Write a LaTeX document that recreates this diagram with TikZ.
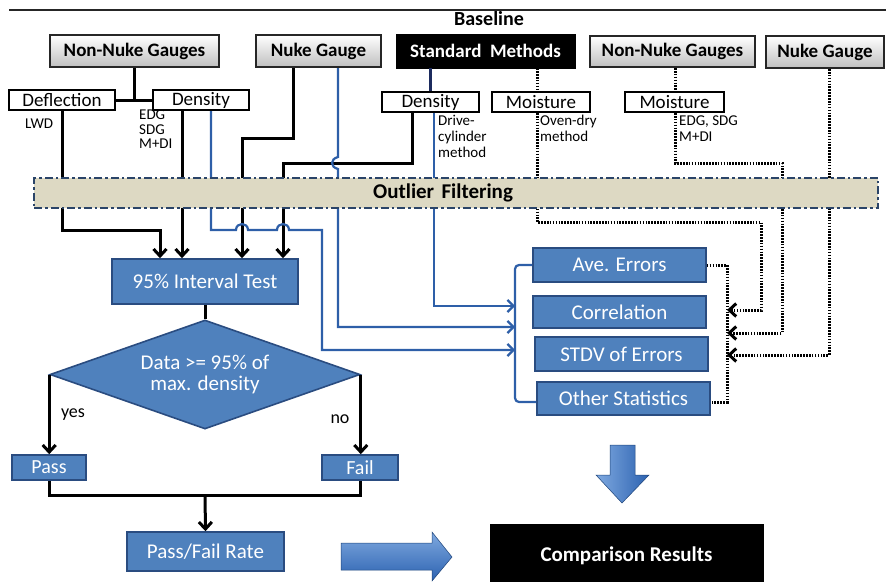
\documentclass[tikz,border=0pt]{standalone}
\usepackage{fontspec}
\setmainfont{Carlito}
\usetikzlibrary{shapes.geometric,arrows.meta}

\definecolor{boxblue}{HTML}{4F81BD}
\definecolor{boxedge}{HTML}{2A4C80}
\definecolor{wireblue}{HTML}{2E5FA8}
\definecolor{navywire}{HTML}{1C2B5E}
\definecolor{bandfill}{HTML}{DDD9C3}
\definecolor{bandedge}{HTML}{2A4468}
\definecolor{arrowlight}{HTML}{7FA9E0}
\definecolor{arrowdark}{HTML}{2C62B0}

\newcommand{\fsz}[1]{\fontsize{#1}{#1}\selectfont}

\begin{document}
\begin{tikzpicture}[x=1pt,y=-1pt,
  gauge/.style={draw=black!85, line width=2pt, top color=white, bottom color=black!25,
                font=\bfseries\fsz{19}, inner sep=0pt},
  darkbox/.style={draw=black, fill=black, text=white, font=\bfseries\fsz{19}, inner sep=0pt},
  kind/.style={draw=black, line width=2pt, fill=white, font=\fsz{19}, inner sep=0pt},
  stat/.style={draw=boxedge, line width=1.6pt, fill=boxblue, text=white, font=\fsz{21}, inner sep=0pt},
  note/.style={font=\fsz{15}, align=left, anchor=north west, inner sep=0pt},
  blk/.style={draw=black, line width=3pt},
  bw/.style={draw=wireblue, line width=2.2pt},
  dots/.style={draw=black, line width=3pt, dash pattern=on 1.6pt off 1.3pt},
  barb/.style={-{Straight Barb[length=7pt,width=13pt]}},
  bluebarb/.style={-{Straight Barb[length=6pt,width=12pt]}},
]
\useasboundingbox (0,0) rectangle (886,581);

% heading rule and title
\draw[line width=2.4pt, black!85] (9,10) -- (886,10);
\node[font=\bfseries\fsz{20}] (baseline) at (489,19) {Baseline};

% top row: instruments and baseline methods
\node[gauge, minimum width=169pt, minimum height=32pt] (nngL) at (134.5,51) {Non-Nuke Gauges};
\node[gauge, minimum width=125pt, minimum height=32pt] (ngL) at (318.5,51) {Nuke Gauge};
\node[darkbox, minimum width=179pt, minimum height=34pt] (std) at (485.5,51) {Standard\hspace{0.45em}Methods};
\node[gauge, minimum width=165pt, minimum height=31pt] (nngR) at (672.5,51.5) {Non-Nuke Gauges};
\node[gauge, minimum width=118pt, minimum height=32pt] (ngR) at (825,52) {Nuke Gauge};

% second row: measured quantities
\node[kind, minimum width=106pt, minimum height=20pt] (defl) at (62,100) {Deflection};
\node[kind, minimum width=96pt, minimum height=20pt] (densL) at (201,100) {Density};
\node[kind, minimum width=97pt, minimum height=20pt] (densS) at (430.5,102) {Density};
\node[kind, minimum width=98pt, minimum height=20pt] (moistS) at (541,102) {Moisture};
\node[kind, minimum width=99pt, minimum height=20pt] (moistR) at (674.5,102) {Moisture};

% device notes
\node[note] (nLwd) at (25,119) {LWD};
\node[note, font=\fontsize{15}{14.5}\selectfont] (nDev) at (139,110) {EDG\\SDG\\M+DI};
\node[note, font=\fontsize{15}{16}\selectfont] (nDrive) at (438,115) {Drive-\\cylinder\\method};
\node[note, font=\fontsize{15}{16}\selectfont] (nOven) at (540,115) {Oven-dry\\method};
\node[note, font=\fontsize{15}{16}\selectfont] (nDevR) at (679,116) {EDG, SDG\\M+DI};

% test branch
\node[stat, minimum width=186pt, minimum height=45pt] (test) at (205,281.5) {95\% Interval Test};
\node[diamond, draw=boxedge, fill=boxblue, line width=1.6pt, text=white, font=\fsz{21},
      align=center, aspect=2.84, minimum width=310pt, minimum height=109pt, inner sep=0pt]
      (dia) at (205,374.5) {Data >= 95\% of\\max. density};
\node[stat, font=\fsz{20}, minimum width=74pt, minimum height=25pt] (pass) at (49,467.5) {Pass};
\node[stat, font=\fsz{20}, minimum width=76pt, minimum height=25pt] (fail) at (360,467.5) {Fail};
\node[stat, minimum width=157pt, minimum height=39pt] (rate) at (205.5,551.5) {Pass/Fail Rate};
\node[font=\fsz{18}] (yes) at (73,415) {yes};
\node[font=\fsz{18}] (no) at (340,419) {no};

% statistics branch
\node[stat, minimum width=173pt, minimum height=34pt] (ave) at (619.5,265) {Ave. Errors};
\node[stat, minimum width=173pt, minimum height=32pt] (corr) at (619.5,312) {Correlation};
\node[stat, minimum width=173pt, minimum height=34pt] (stdv) at (621.5,354) {STDV of Errors};
\node[stat, minimum width=173pt, minimum height=33pt] (other) at (623.5,398.5) {Other Statistics};

% result
\node[darkbox, font=\bfseries\fsz{21}, minimum width=273pt, minimum height=64pt] (comp) at (626.5,556) {Comparison Results};

% block arrows
\shade[top color=arrowlight, bottom color=arrowdark, draw=arrowdark!70!black, line width=0.5pt]
  (341,543) -- (432,543) -- (432,532) -- (452,557) -- (432,581) -- (432,570) -- (341,570) -- cycle;
\shade[left color=arrowlight, right color=arrowdark, draw=arrowdark!70!black, line width=0.5pt]
  (610,445) -- (635,445) -- (635,475) -- (649,475) -- (622,503) -- (596,475) -- (610,475) -- cycle;

% ---- black density wires into the interval test
\draw[blk] (defl.east) -- (densL.west);
\draw[blk] (nngL.south) -- (nngL.south |- defl.east);

\coordinate (kDefl) at (160,230);
\draw[blk,barb] (defl.south) |- (kDefl) -- (kDefl |- test.north);
\coordinate (kDens) at (182,150);
\draw[blk,barb] (densL.south -| kDens) -- (kDens |- test.north);
\coordinate (kNukeA) at (293,138);
\coordinate (kNukeB) at (242,138);
\draw[blk,barb] (ngL.south -| kNukeA) -- (kNukeA) -- (kNukeB) -- (kNukeB |- test.north);
\coordinate (kStdA) at (412,163);
\coordinate (kStdB) at (283,163);
\draw[blk,barb] (densS.south -| kStdA) -- (kStdA) -- (kStdB) -- (kStdB |- test.north);

\draw[blk] (test.south) -- (dia.north);
\draw[blk,barb] (dia.west) -- (dia.west |- pass.north);
\draw[blk,barb] (dia.east) -- (dia.east |- fail.north);
\coordinate (kJoin) at (205,495);
\draw[blk] (pass.south) |- (kJoin) -| (fail.south);
\draw[blk,barb] (kJoin) -- (rate.north);

% ---- blue wires into the statistics
\coordinate (brkT) at (515,265);
\coordinate (brkB) at (515,402);
\draw[bw, rounded corners=4pt] (ave.west) -- (brkT) -- (brkB) -- (other.west |- brkB);

\draw[draw=navywire, line width=2.2pt] (densS.north |- std.south) -- (densS.north);
\coordinate (bDrv) at (434,306);
\draw[bw,bluebarb] (densS.south -| bDrv) -- (bDrv) -- (bDrv -| brkT);

\coordinate (bNuke) at (338,327);
\coordinate (hA) at (338,157);
\coordinate (hB) at (338,169);
\draw[bw,bluebarb] (ngL.south -| bNuke) -- (hA) .. controls (330,159) and (330,167) .. (hB)
  -- (bNuke) -- (bNuke -| brkT);

\coordinate (bDens) at (211,230);
\coordinate (bTurn) at (322,230);
\coordinate (bLow) at (322,350);
\draw[bw,bluebarb] (densL.south -| bDens) -- (bDens)
  -- (236,230) .. controls (236,222) and (248,222) .. (248,230)
  -- (277,230) .. controls (277,222) and (289,222) .. (289,230)
  -- (bTurn) -- (bLow) -- (bLow -| brkT);

% ---- dotted moisture wires
\coordinate (dbT) at (727,265);
\coordinate (dbB) at (727,402);
\draw[dots] (ave.east) -- (dbT) -- (dbB) -- (other.east |- dbB);

\coordinate (dS) at (537,222);
\coordinate (dA) at (761,222);
\coordinate (dAe) at (761,310);
\draw[dots] (dS |- std.south) -- (dS |- moistS.north);
\draw[dots,barb] (dS |- moistS.south) -- (dS) -- (dA) -- (dAe) -- (dAe -| dbT);

\coordinate (dR) at (675,163);
\coordinate (dM) at (782,163);
\coordinate (dMe) at (782,333);
\draw[dots] (dR |- nngR.south) -- (dR |- moistR.north);
\draw[dots,barb] (dR |- moistR.south) -- (dR) -- (dM) -- (dMe) -- (dMe -| dbT);

\coordinate (dN) at (829,355);
\draw[dots,barb] (ngR.south -| dN) -- (dN) -- (dN -| dbT);

% outlier filtering band over the wires
\node[draw=bandedge, fill=bandfill, line width=2.2pt, dash pattern=on 8pt off 3pt on 2.5pt off 3pt,
      minimum width=844pt, minimum height=30pt, inner sep=0pt] (band) at (456,193) {};
\node[font=\bfseries\fsz{21}] (bandtext) at (443,193) {Outlier\hspace{0.35em}Filtering};
\end{tikzpicture}
\end{document}
